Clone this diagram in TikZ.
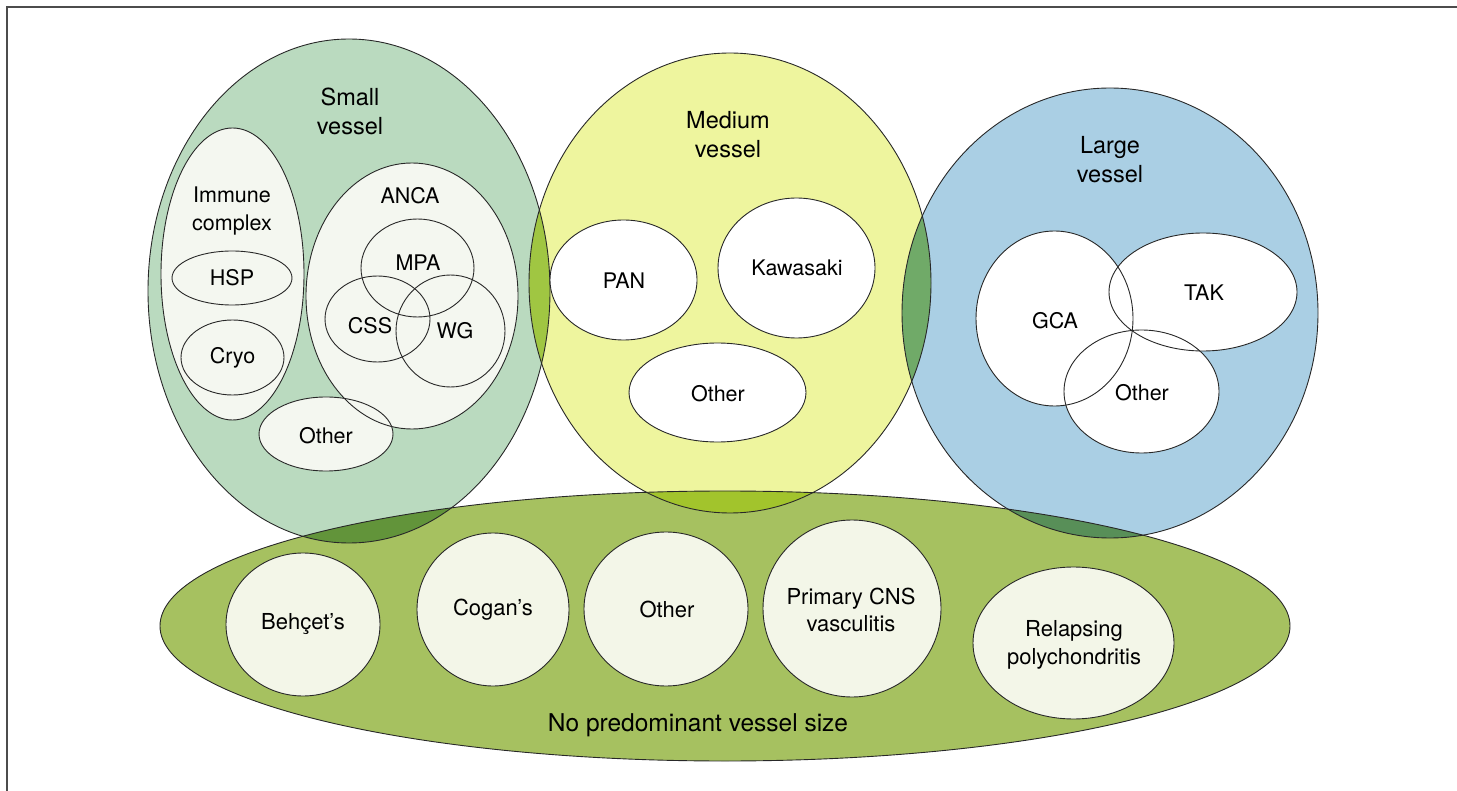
\documentclass[tikz,border=0pt]{standalone}
\usepackage{fontspec}
\setmainfont{TeX Gyre Heros}
\usetikzlibrary{shapes.geometric}
\definecolor{smallc}{RGB}{186,218,191}
\definecolor{mediumc}{RGB}{238,245,158}
\definecolor{largec}{RGB}{170,207,228}
\definecolor{nonec}{RGB}{166,193,96}
\definecolor{lensSM}{RGB}{160,198,66}
\definecolor{lensML}{RGB}{112,170,104}
\definecolor{lensSN}{RGB}{98,148,58}
\definecolor{lensMN}{RGB}{162,196,44}
\definecolor{lensLN}{RGB}{88,143,88}
\definecolor{innerS}{RGB}{244,247,240}
\definecolor{innerN}{RGB}{243,246,232}
\definecolor{linec}{RGB}{40,40,40}
\newcommand\regfill[6]{\node[regshape, fill=#6, minimum width=2*#4 pt, minimum height=2*#5 pt] (#1) at (#2,#3) {};}
\newcommand\regline[5]{\node[regshape, draw=linec, line width=0.9pt, minimum width=2*#4 pt, minimum height=2*#5 pt] (#1) at (#2,#3) {};}
\newcommand\regboth[6]{\node[regshape, fill=#6, draw=linec, line width=0.9pt, minimum width=2*#4 pt, minimum height=2*#5 pt] (#1) at (#2,#3) {};}
\tikzset{
  regshape/.style={ellipse, inner sep=0pt, outer sep=0pt},
  lbl/.style={inner sep=0pt, align=center, font=\fontsize{21.5}{28}\selectfont},
  ttl/.style={inner sep=0pt, align=center, font=\fontsize{23.5}{29}\selectfont},
  lblN/.style={inner sep=0pt, align=center, font=\fontsize{22}{27.5}\selectfont},
  lblB/.style={inner sep=0pt, align=center, font=\fontsize{24.5}{29}\selectfont},
}
\begin{document}
\begin{tikzpicture}[x=1pt,y=-1pt]
\useasboundingbox (0,0) rectangle (1457,791);
% frame
\coordinate (ftl) at (7,7);
\coordinate (ftr) at (1457,7);
\coordinate (fbl) at (7,791);
\draw[line width=1.5pt, black!70] (ftr) -- (ftl) -- (fbl);
% big regions fill
\regfill{nv}{725}{626}{565}{135}{nonec}
\regfill{sv}{349}{291}{201}{252}{smallc}
\regfill{mv}{730}{283}{201}{230}{mediumc}
\regfill{lv}{1110}{313}{208}{225}{largec}
% lenses
\begin{scope}
  \clip (sv.center) ellipse [x radius=201, y radius=252];
  \fill[lensSM] (mv.center) ellipse [x radius=201, y radius=230];
  \fill[lensSN] (nv.center) ellipse [x radius=565, y radius=135];
\end{scope}
\begin{scope}
  \clip (mv.center) ellipse [x radius=201, y radius=230];
  \fill[lensML] (lv.center) ellipse [x radius=208, y radius=225];
  \fill[lensMN] (nv.center) ellipse [x radius=565, y radius=135];
\end{scope}
\begin{scope}
  \clip (lv.center) ellipse [x radius=208, y radius=225];
  \fill[lensLN] (nv.center) ellipse [x radius=565, y radius=135];
\end{scope}
% big outlines
\regline{nvo}{725}{626}{565}{135}
\regline{svo}{349}{291}{201}{252}
\regline{mvo}{730}{283}{201}{230}
\regline{lvo}{1110}{313}{208}{225}
% small vessel inner
\regfill{imm}{232.5}{274}{71.5}{146}{innerS}
\regfill{anca}{412}{296}{106}{133}{innerS}
\regfill{sother}{326}{434}{67}{37}{innerS}
\regline{immo}{232.5}{274}{71.5}{146}
\regline{ancao}{412}{296}{106}{133}
\regline{sothero}{326}{434}{67}{37}
\regline{hsp}{232}{278}{60}{27}
\regline{cryo}{232.5}{357.5}{51.5}{37.5}
\regline{mpa}{417.5}{268}{56.5}{49}
\regline{css}{377.5}{319}{52.5}{43}
\regline{wg}{450.5}{331}{54.5}{56}
% medium inner
\regboth{pan}{623.5}{280}{73.5}{60}{white}
\regboth{kaw}{796.5}{268}{78.5}{70}{white}
\regboth{mother}{717.5}{392.5}{88.5}{49.5}{white}
% large inner
\regfill{gca}{1054.5}{318.5}{78.5}{87.5}{white}
\regfill{tak}{1203}{292}{94}{59}{white}
\regfill{lother}{1141.5}{391.5}{77.5}{61.5}{white}
\regline{gcao}{1054.5}{318.5}{78.5}{87.5}
\regline{tako}{1203}{292}{94}{59}
\regline{lothero}{1141.5}{391.5}{77.5}{61.5}
% no predominant inner
\regboth{beh}{303}{624.5}{77}{71.5}{innerN}
\regboth{cog}{493}{609.5}{76}{76.5}{innerN}
\regboth{nother}{666}{609}{82}{77}{innerN}
\regboth{cns}{852}{608.5}{89}{88.5}{innerN}
\regboth{rp}{1073.5}{643}{100.5}{76}{innerN}
% titles
\node[ttl] (tsv) at (350,111) {Small\\vessel};
\node[ttl] (tmv) at (728,135) {Medium\\vessel};
\node[ttl] (tlv) at (1110,160) {Large\\vessel};
% labels
\node[lbl] (timm) at (232,211) {Immune\\complex};
\node[lbl] (tanca) at (410,196) {ANCA};
\node[lbl] (thsp) at (hsp) {HSP};
\node[lbl] (tcryo) at (cryo) {Cryo};
\node[lbl] (tmpa) at (418,263) {MPA};
\node[lbl] (tcss) at (370,326) {CSS};
\node[lbl] (twg) at (455,331) {WG};
\node[lbl] (tso) at (326,436) {Other};
\node[lbl] (tpan) at (624,281) {PAN};
\node[lbl] (tkaw) at (797,268) {Kawasaki};
\node[lbl] (tmo) at (718,394) {Other};
\node[lbl] (tgca) at (1055,321) {GCA};
\node[lbl] (ttak) at (1204,293) {TAK};
\node[lbl] (tlo) at (1142,393) {Other};
\node[lblN] (tbeh) at (303,624) {Behçet’s};
\node[lblN] (tcog) at (493,610) {Cogan’s};
\node[lblN] (tno) at (667,609) {Other};
\node[lblN] (tcns) at (851,610) {Primary CNS\\vasculitis};
\node[lblN] (trp) at (1074,645) {Relapsing\\polychondritis};
\node[lblB] (tnone) at (698,725) {No predominant vessel size};
\end{tikzpicture}
\end{document}
